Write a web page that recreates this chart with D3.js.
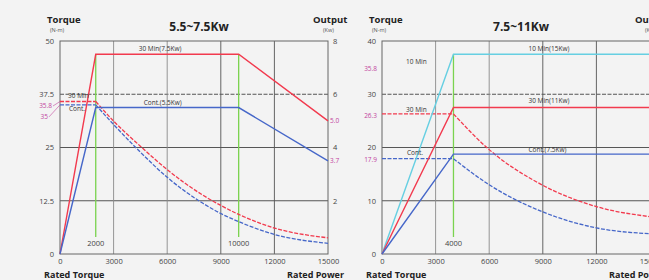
<!DOCTYPE html>
<html>
<head>
<meta charset="utf-8">
<script src="https://cdn.jsdelivr.net/npm/d3@7"></script>
<style>
	body { margin: 0; background: #f3f3f3; }
	svg { display: block; font-family: 'Open Sans', sans-serif; }
</style>
</head>
<body>
<svg id="svg" width="649" height="280"></svg>
<script>
const speedTicks = [0, 3000, 6000, 9000, 12000, 15000];

// panel 1 : 5.5~7.5Kw
const p1TorqueTicks = [0, 12.5, 25, 37.5, 50];
const p1OutputTicks = [2, 4, 6, 8];
const p1Power30 = [[0, 0], [2000, 7.5], [10000, 7.5], [15000, 5.0]];
const p1PowerCont = [[0, 0], [2000, 5.5], [10000, 5.5], [15000, 3.5]];
const p1Torque30 = [[0, 35.8], [2000, 35.8], [3000, 31.2], [4500, 25.3], [6000, 19.8], [8000, 13.8], [9000, 11.4], [10000, 9.3], [12000, 6.1], [15000, 3.8]];
const p1TorqueCont = [[0, 35], [2000, 35], [3000, 30.4], [4500, 23.9], [6000, 18.0], [8000, 11.9], [9000, 9.5], [10000, 7.6], [12000, 4.6], [15000, 2.5]];
const p1Marks = [2000, 10000];

// panel 2 : 7.5~11Kw  (its output axis lies past the picture's right edge)
const p2TorqueTicks = [0, 10, 20, 30, 40];
const p2OutputTicks = [];
const p2Power10 = [[0, 0], [4000, 15], [15000, 15]];
const p2Power30 = [[0, 0], [4000, 11], [15000, 11]];
const p2PowerCont = [[0, 0], [4000, 7.5], [15000, 7.5]];
const p2Torque30 = [[0, 26.3], [4000, 26.3], [6000, 19.6], [9000, 12.9], [12000, 8.9], [15000, 7.0]];
const p2TorqueCont = [[0, 17.9], [4000, 17.9], [6000, 13.0], [9000, 7.9], [12000, 4.9], [15000, 3.8]];
const p2Marks = [4000];

const RED = '#f23a4e';
const BLUE = '#4667c9';
const CYAN = '#66cfe2';
const GREEN = '#7ad34e';
const PINK = '#c2449e';

const svg = d3.select('#svg');

function drawPanel(o) {
	const g = svg.append('g');
	const x = d3.scaleLinear().domain([0, 15000]).range([o.x0, o.x0 + 268]);
	const yT = d3.scaleLinear().domain([0, o.tMax]).range([254, 41]);
	const yP = d3.scaleLinear().domain([0, o.pMax]).range([254, 41]);

	// grid
	g.selectAll('.hg')
		.data(o.tTicks.slice(1, -1))
		.enter()
		.append('line')
		.attr('x1', x(0)).attr('x2', x(15000))
		.attr('y1', (d) => yT(d)).attr('y2', (d) => yT(d))
		.attr('stroke', '#444')
		.attr('stroke-width', 0.9)
		.attr('stroke-dasharray', (d, i) => (i == 2 ? '4,1.5' : null));

	g.selectAll('.vg')
		.data(speedTicks.slice(1, -1))
		.enter()
		.append('line')
		.attr('x1', (d) => x(d)).attr('x2', (d) => x(d))
		.attr('y1', yT(0)).attr('y2', yT(o.tMax))
		.attr('stroke', (d, i) => (i < 2 ? '#8a8a8a' : '#555'))
		.attr('stroke-width', 0.9);

	g.append('rect')
		.attr('x', x(0)).attr('y', yT(o.tMax))
		.attr('width', x(15000) - x(0)).attr('height', yT(0) - yT(o.tMax))
		.attr('fill', 'none')
		.attr('stroke', '#666')
		.attr('stroke-width', 1);

	// axes (labels only)
	const fmt = (d) => (d == 12.5 || d == 37.5 ? d : d3.format('d')(d));
	const left = g.append('g')
		.attr('transform', `translate(${x(0) - 3}, 0)`)
		.call(d3.axisLeft(yT).tickValues(o.tTicks).tickSize(0).tickFormat(fmt));
	const right = g.append('g')
		.attr('transform', `translate(${x(15000) + 2}, 0)`)
		.call(d3.axisRight(yP).tickValues(o.pTicks).tickSize(0));
	const bottom = g.append('g')
		.attr('transform', `translate(0, ${yT(0) + 2})`)
		.call(d3.axisBottom(x).tickValues(speedTicks).tickSize(0).tickFormat(d3.format('d')));
	[left, right, bottom].forEach((a) => {
		a.select('.domain').remove();
		a.selectAll('text')
			.attr('font-family', 'Open Sans, sans-serif')
			.attr('font-size', 7.5)
			.attr('fill', '#444');
	});

	// lines
	const line = d3.line().x((d) => x(d[0])).y((d) => yP(d[1]));
	const tLine = d3.line().x((d) => x(d[0])).y((d) => yT(d[1])).curve(d3.curveMonotoneX);

	// green speed markers
	g.selectAll('.mk')
		.data(o.marks)
		.enter()
		.append('line')
		.attr('x1', (d) => x(d)).attr('x2', (d) => x(d))
		.attr('y1', 237).attr('y2', yP(o.markTop))
		.attr('stroke', GREEN)
		.attr('stroke-width', 1.3);
	g.selectAll('.mkt')
		.data(o.marks)
		.enter()
		.append('text')
		.attr('x', (d) => x(d)).attr('y', 246)
		.attr('text-anchor', 'middle')
		.attr('font-size', 7.5)
		.attr('fill', '#444')
		.text((d) => d);

	o.torque.forEach((s) => {
		g.append('path')
			.attr('d', d3.line().x((d) => x(d[0])).y((d) => yT(d[1]))(s.data.slice(0, 2)))
			.attr('fill', 'none').attr('stroke', s.color).attr('stroke-width', 1.3)
			.attr('stroke-dasharray', '4,1.5');
		g.append('path')
			.attr('d', tLine(s.data.slice(1)))
			.attr('fill', 'none').attr('stroke', s.color).attr('stroke-width', 1.3)
			.attr('stroke-dasharray', '4,1.5');
	});

	o.power.forEach((s) => {
		g.append('path')
			.attr('d', line(s.data))
			.attr('fill', 'none')
			.attr('stroke', s.color)
			.attr('stroke-width', 1.4);
	});

	// inner labels
	o.labels.forEach((l) => {
		g.append('text')
			.attr('x', x(l.at))
			.attr('y', (l.axis == 'p' ? yP(l.v) : yT(l.v)) + l.dy)
			.attr('text-anchor', l.anchor || 'start')
			.attr('font-size', 6.5)
			.attr('fill', '#333')
			.text(l.text);
	});

	// pink value labels
	o.pinks.forEach((l) => {
		const yy = (l.axis == 'p' ? yP(l.v) : yT(l.v));
		g.append('text')
			.attr('x', l.side == 'r' ? x(15000) + 2 : x(0) - 5 - (l.lead || 0))
			.attr('y', yy + (l.dy || 0) + 2.5)
			.attr('text-anchor', l.side == 'r' ? 'start' : 'end')
			.attr('font-size', 6.5)
			.attr('fill', PINK)
			.text(l.text);
		if (l.lead) {
			g.append('line')
				.attr('x1', x(0) - 4 - l.lead).attr('y1', yy + (l.dy || 0))
				.attr('x2', x(0)).attr('y2', yy)
				.attr('stroke', PINK).attr('stroke-width', 0.6);
		}
	});

	// titles
	const t = (tx, ty, txt, size, weight, anchor, col) =>
		g.append('text')
			.attr('x', o.x0 + tx).attr('y', ty)
			.attr('text-anchor', anchor || 'start')
			.attr('font-size', size)
			.attr('font-weight', weight || 'normal')
			.attr('fill', col || '#222')
			.text(txt);
	t(-13, 23, 'Torque', 9.5, 'bold');
	t(-10, 32, '(N-m)', 5.5, 'normal', 'start', '#555');
	t(139, 31, o.title, 12, 'bold', 'middle');
	t(253, 23, 'Output', 9.5, 'bold');
	t(263, 32, '(Kw)', 5.5, 'normal', 'start', '#555');
	t(-16, 278, 'Rated Torque', 9, 'bold');
	t(284, 278, 'Rated Power', 9, 'bold', 'end');
}

drawPanel({
	x0: 60,
	tMax: 50,
	pMax: 8,
	tTicks: p1TorqueTicks,
	pTicks: p1OutputTicks,
	title: '5.5~7.5Kw',
	marks: p1Marks,
	markTop: 7.5,
	power: [
		{ data: p1Power30, color: RED },
		{ data: p1PowerCont, color: BLUE },
	],
	torque: [
		{ data: p1Torque30, color: RED },
		{ data: p1TorqueCont, color: BLUE },
	],
	labels: [
		{ text: '30 Min(7.5Kw)', at: 5600, v: 7.5, axis: 'p', dy: -3, anchor: 'middle' },
		{ text: 'Cont.(5.5Kw)', at: 5750, v: 5.5, axis: 'p', dy: -3, anchor: 'middle' },
		{ text: '30 Min', at: 450, v: 35.8, axis: 't', dy: -3 },
		{ text: 'Cont.', at: 500, v: 35, axis: 't', dy: 6.5 },
	],
	pinks: [
		{ text: '35.8', v: 35.8, axis: 't', lead: 3, dy: 4.5 },
		{ text: '35', v: 35, axis: 't', lead: 7, dy: 12 },
		{ text: '5.0', v: 5.0, axis: 'p', side: 'r' },
		{ text: '3.7', v: 3.5, axis: 'p', side: 'r' },
	],
});

drawPanel({
	x0: 382,
	tMax: 40,
	pMax: 16,
	tTicks: p2TorqueTicks,
	pTicks: p2OutputTicks,
	title: '7.5~11Kw',
	marks: p2Marks,
	markTop: 15,
	power: [
		{ data: p2Power10, color: CYAN },
		{ data: p2Power30, color: RED },
		{ data: p2PowerCont, color: BLUE },
	],
	torque: [
		{ data: p2Torque30, color: RED },
		{ data: p2TorqueCont, color: BLUE },
	],
	labels: [
		{ text: '10 Min(15Kw)', at: 8200, v: 15, axis: 'p', dy: -3 },
		{ text: '30 Min(11Kw)', at: 8200, v: 11, axis: 'p', dy: -4.5 },
		{ text: 'Cont.(7.5Kw)', at: 8200, v: 7.5, axis: 'p', dy: -2.5 },
		{ text: '10 Min', at: 1350, v: 35.8, axis: 't', dy: 1 },
		{ text: '30 Min', at: 1350, v: 26.3, axis: 't', dy: -2 },
		{ text: 'Cont.', at: 1400, v: 17.9, axis: 't', dy: -4 },
	],
	pinks: [
		{ text: '35.8', v: 35.8, axis: 't', dy: 5 },
		{ text: '26.3', v: 26.3, axis: 't', dy: 1.5 },
		{ text: '17.9', v: 17.9, axis: 't', dy: 1 },
	],
});
</script>
</body>
</html>
